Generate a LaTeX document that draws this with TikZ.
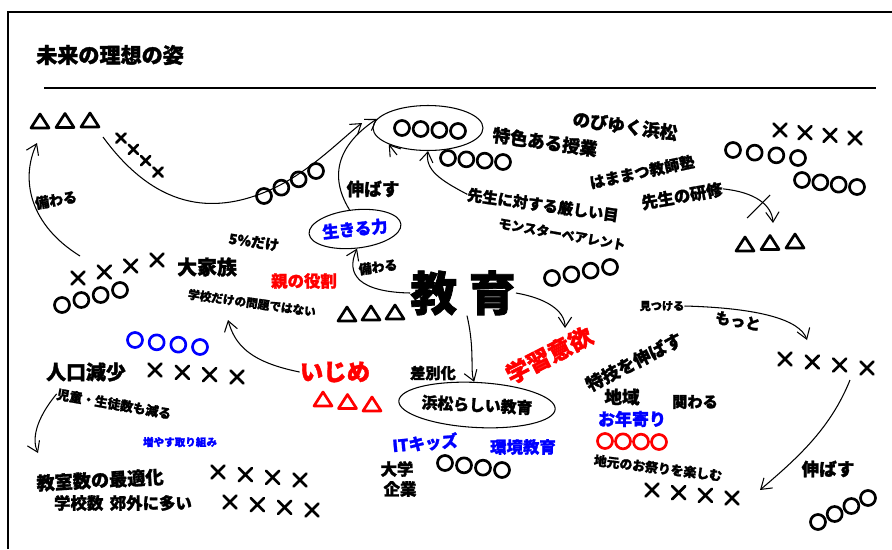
\documentclass[tikz,border=0pt]{standalone}
\usepackage{fontspec}
\setmainfont{Noto Sans CJK JP}[BoldFeatures={FakeBold=1.6}]
\usetikzlibrary{calc,shapes.geometric,arrows.meta}

\newcommand\fsz[1]{\fontsize{#1}{#1}\selectfont}
% a row of marks: [options]{kind}{count-1}{first}{last}
\newcommand\kigorow[5][black]{%
  \foreach \k in {0,...,#3} \pic[#1] at ($#4!\k/#3!#5$) {#2};}

\tikzset{
  kigo/.style={line width=2.3pt,line cap=round,line join=round},
  maru/.pic={\draw[kigo] (0,0) circle (7.5);},
  batsu/.pic={\draw[kigo] (-6.5,-6.5)--(6.5,6.5) (-6.5,6.5)--(6.5,-6.5);},
  sankaku/.pic={\draw[kigo] (-9,6)--(9,6)--(0,-8)--cycle;},
  txt/.style={font=\bfseries\fsz{#1},inner sep=0pt},
  yaji/.style={line width=0.9pt,-{Straight Barb[length=3mm,width=4mm]}},
  wa/.style={draw,ellipse,line width=0.9pt,inner sep=0pt},
}

\begin{document}
\begin{tikzpicture}[x=0.03cm,y=-0.03cm]
\useasboundingbox (0,0) rectangle (892,549);
\draw[line width=1.2pt] (8,549) -- (8,12) -- (892,12);
\draw[line width=0.9pt] (44,88) -- (876,88);
\node[txt=18,anchor=west] (title) at (36,55) {未来の理想の姿};

% upper left
\kigorow{sankaku}{2}{(40,122)}{(90,121)}
\kigorow[scale=.7]{batsu}{3}{(121,138)}{(158,172)}
\kigorow{maru}{3}{(264,196)}{(316,171)}
\node[txt=12,rotate=10] (sonawaru1) at (56,200) {備わる};
\coordinate (s1) at (80,256);
\coordinate (e1) at (37,143);
\draw[yaji] (s1) .. controls (30,225) and (20,180) .. (e1);
\coordinate (s2) at (103,137);
\coordinate (e2) at (362,123);
\draw[yaji] (s2) .. controls (160,215) and (220,212) .. (270,190)
  .. controls (310,172) and (340,140) .. (e2);

% upper centre
\node[wa,minimum width=3.3cm,minimum height=1.35cm] (topwa) at (428,128) {};
\kigorow{maru}{3}{(402,128)}{(458,131)}
\kigorow{maru}{3}{(448,158)}{(503,162)}
\node[txt=15,rotate=-8] (tokushoku) at (545,142) {特色ある授業};
\node[txt=13,rotate=-8] (kibishii) at (543,205) {先生に対する厳しい目};
\node[txt=11,rotate=-10] (monsuta) at (562,234) {モンスターペアレント};
\coordinate (s3) at (397,155);
\draw[yaji] (s3) -- (topwa.south west);
\draw[yaji] (kibishii.west) .. controls (440,180) and (425,170) .. (topwa.south);
\node[wa,txt=14,text=blue,rotate=6,minimum width=2.5cm,minimum height=1.15cm]
  (ikiru) at (355,229) {生きる力};
\draw[yaji] (ikiru.100) .. controls (325,170) and (345,140) .. (topwa.170);
\node[txt=15] (nobasu1) at (373,189) {伸ばす};

% upper right
\node[txt=15,rotate=-8] (nobiyuku) at (625,126) {のびゆく浜松};
\node[txt=13,rotate=12] (kyoshijuku) at (642,172) {はままつ教師塾};
\node[txt=14,rotate=10] (kenshu) at (682,196) {先生の研修};
\kigorow{batsu}{3}{(780,130)}{(855,138)}
\kigorow{maru}{3}{(733,150)}{(798,158)}
\kigorow{maru}{3}{(802,180)}{(857,187)}
\kigorow{sankaku}{2}{(745,245)}{(795,242)}
\coordinate (e4) at (773,223);
\draw[yaji] (kenshu.east) .. controls (755,192) and (772,205) .. (e4);
\draw[line width=0.9pt] (747,218) -- (770,195);

% centre
\node[txt=40] (kyoiku) at (463,293) {教\hspace{.25em}育};
\kigorow{maru}{3}{(552,278)}{(610,267)}
\kigorow{sankaku}{2}{(347,315)}{(395,313)}
\node[txt=11,rotate=8] (sonawaru2) at (378,267) {備わる};
\draw[yaji] (kyoiku.west) .. controls (360,292) and (345,275) .. (ikiru.south);
\node[txt=14,red] (oya) at (304,281) {親の役割};
\node[txt=12,rotate=-8] (gopa) at (254,242) {5\%だけ};
\node[txt=17] (daikazoku) at (207,267) {大家族};
\node[txt=10,rotate=-8] (mondai) at (252,303) {学校だけの問題ではない};
\kigorow{batsu}{3}{(78,278)}{(157,260)}
\kigorow{maru}{3}{(62,305)}{(120,290)}

% lower left
\node[txt=20,red] (ijime) at (335,372) {いじめ};
\kigorow[red]{sankaku}{2}{(323,400)}{(372,405)}
\coordinate (e5) at (228,320);
\draw[yaji] (ijime.west) .. controls (250,362) and (235,345) .. (e5);
\kigorow[blue]{maru}{3}{(135,340)}{(200,347)}
\kigorow{batsu}{3}{(155,370)}{(237,377)}
\node[txt=17] (jinko) at (86,372) {人口減少};
\node[txt=11,rotate=-10] (jido) at (114,404) {児童・生徒数も減る};
\coordinate (e6) at (38,453);
\draw[yaji] (jido.west) .. controls (35,420) and (32,440) .. (e6);
\node[txt=9,blue] (fuyasu) at (180,442) {増やす取り組み};
\node[txt=15.5,rotate=3] (kyoshitsu) at (100,480) {教室数の最適化};
\node[txt=14] (gakkosu) at (123,503) {学校数\hspace{.4em}郊外に多い};
\kigorow{batsu}{3}{(218,472)}{(300,480)}
\kigorow{batsu}{3}{(230,502)}{(312,510)}

% lower centre
\node[txt=13] (sabetsu) at (433,373) {差別化};
\node[wa,txt=13.5,rotate=-3,minimum width=4.35cm,minimum height=1.35cm]
  (hamamatsu) at (477,405) {浜松らしい教育};
\draw[yaji] (kyoiku.-80) .. controls (475,350) and (470,370) .. (hamamatsu.100);
\node[txt=14,blue,rotate=5] (itkids) at (425,443) {ITキッズ};
\node[txt=14,blue] (kankyo) at (523,447) {環境教育};
\node[txt=14] (daigaku) at (397,469) {大学};
\node[txt=14] (kigyo) at (400,489) {企業};
\kigorow{maru}{3}{(445,463)}{(502,470)}

% lower right
\node[txt=20,red,rotate=27] (iyoku) at (549,355) {学習意欲};
\coordinate (e7) at (565,328);
\draw[yaji] (kyoiku.east) .. controls (545,298) and (565,310) .. (e7);
\node[txt=15,rotate=27] (tokugi) at (634,362) {特技を伸ばす};
\node[txt=15] (chiiki) at (622,397) {地域};
\node[txt=13] (kakawaru) at (695,402) {関わる};
\node[txt=14.5,blue] (otoshiyori) at (632,419) {お年寄り};
\kigorow[red]{maru}{3}{(605,441)}{(659,442)}
\node[txt=11,rotate=-7] (omatsuri) at (658,468) {地元のお祭りを楽しむ};
\kigorow{batsu}{3}{(652,490)}{(732,498)}
\node[txt=9.5] (mitsukeru) at (662,306) {見つける};
\node[txt=13,rotate=-10] (motto) at (738,321) {もっと};
\coordinate (e8) at (807,340);
\draw[yaji] (mitsukeru.east) .. controls (760,308) and (800,320) .. (e8);
\kigorow{batsu}{3}{(785,359)}{(867,368)}
\coordinate (s9) at (850,380);
\coordinate (e9) at (760,490);
\draw[yaji] (s9) .. controls (830,430) and (795,460) .. (e9);
\node[txt=15] (nobasu2) at (828,469) {伸ばす};
\kigorow{maru}{3}{(818,522)}{(868,498)}
\end{tikzpicture}
\end{document}
